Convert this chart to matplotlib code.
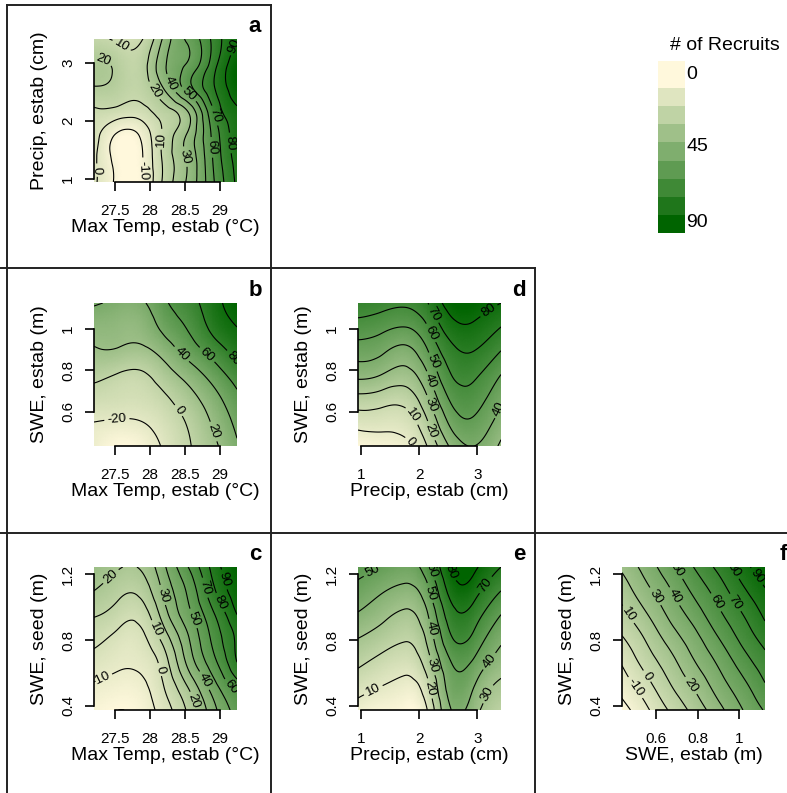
import numpy as np
import matplotlib
matplotlib.use('Agg')
import matplotlib.pyplot as plt
from matplotlib.colors import LinearSegmentedColormap
from matplotlib.tri import Triangulation, UniformTriRefiner
from matplotlib.lines import Line2D

plt.rcParams['font.family'] = ['Liberation Sans', 'DejaVu Sans']
plt.rcParams['contour.negative_linestyle'] = 'solid'

# grid nodes of the predictors (edges of each panel included)
temp_estab = [27.2, 27.55, 27.9, 28.2, 28.55, 28.9, 29.25]
precip_estab = [0.94, 1.35, 1.75, 2.15, 2.55, 2.95, 3.41]
swe_estab = [0.434, 0.55, 0.665, 0.78, 0.895, 1.01, 1.126]
swe_seed = [0.374, 0.52, 0.665, 0.81, 0.955, 1.1, 1.245]

# predicted # of recruits, rows from bottom to top
recruits_a = [[2, -13, -11, 12, 32, 58, 82],
              [2, -14, -10, 12, 32, 60, 84],
              [5, -12, -7, 12, 32, 62, 86],
              [8, 6, 6, 15, 30, 68, 88],
              [19, 16, 14, 30, 55, 78, 96],
              [22, 17, 16, 38, 52, 75, 98],
              [12, 8, 10, 32, 52, 72, 90]]
recruits_b = [[-25, -35, -30, -18, -2, 15, 38],
              [-20, -22, -20, -12, 2, 22, 45],
              [-8, -10, -10, -3, 12, 32, 55],
              [5, -1, -2, 10, 28, 48, 70],
              [18, 18, 16, 28, 48, 68, 88],
              [28, 26, 28, 45, 62, 85, 100],
              [42, 36, 38, 56, 72, 92, 108]]
recruits_c = [[-17, -20, -16, -5, 12, 36, 55],
              [-11, -14, -12, 0, 21, 45, 65],
              [-4, -8, -7, 5, 33, 56, 80],
              [3, -3, -2, 14, 39, 62, 82],
              [11, 5, 5, 25, 47, 68, 90],
              [20, 13, 14, 32, 52, 77, 96],
              [27, 21, 22, 38, 60, 83, 100]]
recruits_d = [[-9, -6, -3, 11, 32, 40, 28],
              [4, 4, 5, 20, 43, 48, 35],
              [17, 15, 14, 30, 52, 55, 42],
              [33, 30, 26, 40, 60, 62, 50],
              [45, 42, 37, 50, 67, 70, 60],
              [56, 53, 50, 60, 76, 78, 70],
              [66, 64, 62, 70, 85, 86, 80]]
recruits_e = [[6, 3, 1, 11, 40, 34, 22],
              [14, 10, 7, 18, 45, 40, 28],
              [22, 17, 14, 26, 50, 48, 35],
              [30, 25, 21, 33, 59, 57, 42],
              [39, 33, 28, 40, 66, 65, 50],
              [47, 41, 37, 48, 74, 74, 60],
              [53, 50, 46, 57, 81, 82, 70]]
recruits_f = [[-24, -12, 1, 13, 26, 39, 51],
              [-16, -4, 9, 21, 34, 46, 59],
              [-9, 4, 16, 29, 41, 54, 66],
              [-1, 11, 24, 36, 49, 62, 74],
              [7, 19, 32, 44, 57, 69, 82],
              [14, 27, 39, 52, 64, 77, 89],
              [22, 34, 47, 60, 72, 85, 97]]

legend_ticks = [0, 45, 90]

cmap = LinearSegmentedColormap.from_list('recruits', ['#FFF8DC', '#006400'])

W, H = 787, 793
fig = plt.figure(figsize=(W / 100, H / 100), dpi=100)


def px_axes(left, top, w=143, h=143):
    return fig.add_axes([left / W, 1 - (top + h) / H, w / W, h / H])


def draw_panel(ax, xs, ys, z, levels, xticks, xticklabels, yticks, yticklabels, xlab, ylab):
    xs = np.asarray(xs, float)
    ys = np.asarray(ys, float)
    z = np.asarray(z, float)
    nx, ny = len(xs), len(ys)
    # triangulate in unit coordinates so the smoothing is not scale biased
    ux, uy = np.meshgrid((xs - xs[0]) / (xs[-1] - xs[0]), (ys - ys[0]) / (ys[-1] - ys[0]))
    tris = []
    for j in range(ny - 1):
        for i in range(nx - 1):
            k = j * nx + i
            tris.append([k, k + 1, k + nx + 1])
            tris.append([k, k + nx + 1, k + nx])
    tri = Triangulation(ux.ravel(), uy.ravel(), tris)
    tri_f, z_f = UniformTriRefiner(tri).refine_field(z.ravel(), subdiv=4)
    tri_xy = Triangulation(xs[0] + tri_f.x * (xs[-1] - xs[0]),
                           ys[0] + tri_f.y * (ys[-1] - ys[0]), tri_f.triangles)
    ax.tripcolor(tri_xy, z_f, cmap=cmap, shading='gouraud', vmin=z.min(), vmax=z.max())
    cs = ax.tricontour(tri_xy, z_f, levels=levels, colors='black', linewidths=0.8)
    ax.clabel(cs, fmt='%d', fontsize=9.5, inline=True, inline_spacing=3)

    ax.set_xlim(xs[0], xs[-1])
    ax.set_ylim(ys[0], ys[-1])
    ax.set_xticks(xticks)
    ax.set_xticklabels(xticklabels)
    ax.set_yticks(yticks)
    ax.set_yticklabels(yticklabels, rotation=90, va='center')
    for side in ['top', 'right']:
        ax.spines[side].set_visible(False)
    ax.spines['left'].set_bounds(yticks[0], yticks[-1])
    ax.spines['bottom'].set_bounds(xticks[0], xticks[-1])
    for side in ['left', 'bottom']:
        ax.spines[side].set_linewidth(1.2)
    ax.tick_params(direction='out', length=6.5, width=1.2, labelsize=11, pad=7)
    ax.tick_params(axis='x', pad=9)
    ax.set_xlabel(xlab, fontsize=14)
    ax.set_ylabel(ylab, fontsize=14)
    ax.xaxis.set_label_coords(0.5, -0.315)
    ax.xaxis.label.set_verticalalignment('center')
    ax.yaxis.set_label_coords(-0.378, 0.5)
    ax.yaxis.label.set_verticalalignment('center')


temp_ticks = [27.5, 28, 28.5, 29]
temp_labels = ['27.5', '28', '28.5', '29']
precip_ticks = [1, 2, 3]
precip_labels = ['1', '2', '3']
swe_e_ticks = [0.6, 0.8, 1.0]
swe_e_labels = ['0.6', '0.8', '1']
swe_s_ticks = [0.4, 0.8, 1.2]
swe_s_labels = ['0.4', '0.8', '1.2']

lab_temp = 'Max Temp, estab (°C)'
lab_precip = 'Precip, estab (cm)'
lab_swe_e = 'SWE, estab (m)'
lab_swe_s = 'SWE, seed (m)'

step10 = np.arange(-40, 120, 10)
step20 = np.arange(-40, 130, 20)

panels = [
    ('a', 94, 39, temp_estab, precip_estab, recruits_a, step10, temp_ticks, temp_labels,
     precip_ticks, precip_labels, lab_temp, lab_precip),
    ('b', 94, 303, temp_estab, swe_estab, recruits_b, step20, temp_ticks, temp_labels,
     swe_e_ticks, swe_e_labels, lab_temp, lab_swe_e),
    ('c', 94, 567, temp_estab, swe_seed, recruits_c, step10, temp_ticks, temp_labels,
     swe_s_ticks, swe_s_labels, lab_temp, lab_swe_s),
    ('d', 358, 303, precip_estab, swe_estab, recruits_d, step10, precip_ticks, precip_labels,
     swe_e_ticks, swe_e_labels, lab_precip, lab_swe_e),
    ('e', 358, 567, precip_estab, swe_seed, recruits_e, step10, precip_ticks, precip_labels,
     swe_s_ticks, swe_s_labels, lab_precip, lab_swe_s),
    ('f', 622, 567, swe_estab, swe_seed, recruits_f, step10, swe_e_ticks, swe_e_labels,
     swe_s_ticks, swe_s_labels, lab_swe_e, lab_swe_s),
]

for letter, left, top, xs, ys, z, lev, xt, xtl, yt, ytl, xl, yl in panels:
    ax = px_axes(left, top)
    draw_panel(ax, xs, ys, z, lev, xt, xtl, yt, ytl, xl, yl)
    fig.text((left + 161) / W, 1 - (top - 12) / H, letter, fontsize=16, fontweight='bold',
             ha='center', va='center')

# panel frames
frame = [((7, 5), (271, 5)), ((7, 5), (7, 793)), ((271, 5), (271, 793)),
         ((0, 268), (535, 268)), ((0, 533), (787, 533)), ((535, 268), (535, 793))]
for (x0, y0), (x1, y1) in frame:
    fig.add_artist(Line2D([x0 / W, x1 / W], [1 - y0 / H, 1 - y1 / H],
                          transform=fig.transFigure, color='#222222', lw=1.4))

# colour key
n_keys = 9
key_colors = [cmap(i / (n_keys - 1)) for i in range(n_keys)]
key_heights = [1.5] + [1] * (n_keys - 1)
key_bottoms = np.concatenate([[0], np.cumsum(key_heights)[:-1]])
lax = px_axes(658, 61, 27, 172)
lax.bar(0, key_heights, bottom=key_bottoms, width=1, color=key_colors, linewidth=0)
lax.set_xlim(-0.5, 0.5)
lax.set_ylim(sum(key_heights), 0)
lax.axis('off')
key_label_pos = [0.75, 4.7, 8.9]
for val, pos in zip(legend_ticks, key_label_pos):
    lax.text(1.05, pos, str(val), fontsize=14, ha='left', va='center',
             transform=lax.get_yaxis_transform())
fig.text(670 / W, 1 - 46 / H, '# of Recruits', fontsize=14, ha='left', va='center')

fig.savefig('out.png', dpi=100)
